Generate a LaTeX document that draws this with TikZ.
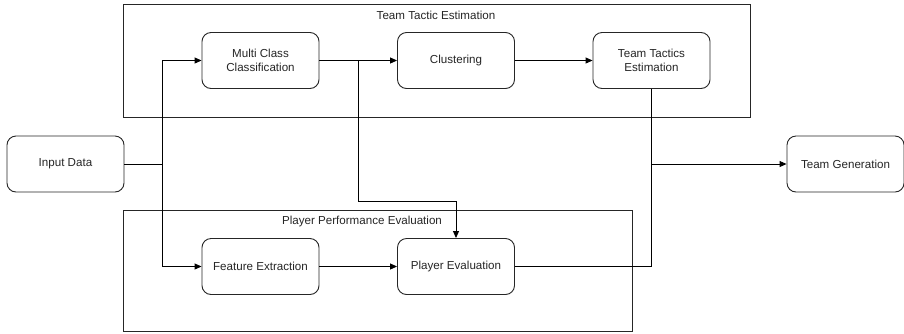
\documentclass[tikz,border=0pt]{standalone}
\usepackage{fontspec}
\setmainfont{Liberation Sans}
\usetikzlibrary{arrows.meta}
\begin{document}
\begin{tikzpicture}[x=1pt,y=-1pt,
  every node/.style={font=\fontsize{11.6}{13.5}\selectfont},
  proc/.style={draw=black!85, line width=0.9pt, rounded corners=9pt, minimum width=117pt, minimum height=56pt, inner sep=0pt, align=center, text=black!85},
  group/.style={draw=black!85, line width=0.9pt, inner sep=0pt},
  title/.style={inner sep=0pt, text=black!85},
  conn/.style={draw=black, line width=0.9pt},
  arr/.style={conn, -{Triangle[length=7pt,width=6pt]}}
]
\useasboundingbox (0,0) rectangle (904,333);
\fill[white] (0,0) rectangle (904,333);
% groups
\node[group, minimum width=627pt, minimum height=113pt] (gtop) at (436.5,60.5) {};
\node[title] (ttop) at (436,15) {Team Tactic Estimation};
\node[group, minimum width=509pt, minimum height=121pt] (gbot) at (377.5,271) {};
\node[title] (tbot) at (362,221) {Player Performance Evaluation};
% processes
\node[proc] (in) at (65.5,164) {Input Data};
\node[proc] (mcc) at (260.5,60.5) {Multi Class\\Classification};
\node[proc] (clu) at (456,60.5) {Clustering};
\node[proc] (tte) at (651.5,60.5) {Team Tactics\\Estimation};
\node[proc] (fe) at (260.5,266.5) {Feature Extraction};
\node[proc] (pe) at (456,266.5) {Player Evaluation};
\node[proc] (tg) at (845.5,164) {Team Generation};
% connectors
\coordinate (split) at (162,164);
\draw[conn] (in.east) -- (split);
\draw[arr] (split) |- (mcc.west);
\draw[arr] (split) |- (fe.west);
\draw[arr] (mcc.east) -- (clu.west);
\draw[arr] (clu.east) -- (tte.west);
\coordinate (j1) at (358,60.5);
\coordinate (j2) at (358,201);
\draw[conn] (j1) -- (j2);
\draw[arr] (j2) -| (pe.north);
\draw[arr] (fe.east) -- (pe.west);
\coordinate (j3) at (651.5,164);
\draw[conn] (tte.south) -- (j3);
\draw[conn] (pe.east) -| (j3);
\draw[arr] (j3) -- (tg.west);
\end{tikzpicture}
\end{document}
